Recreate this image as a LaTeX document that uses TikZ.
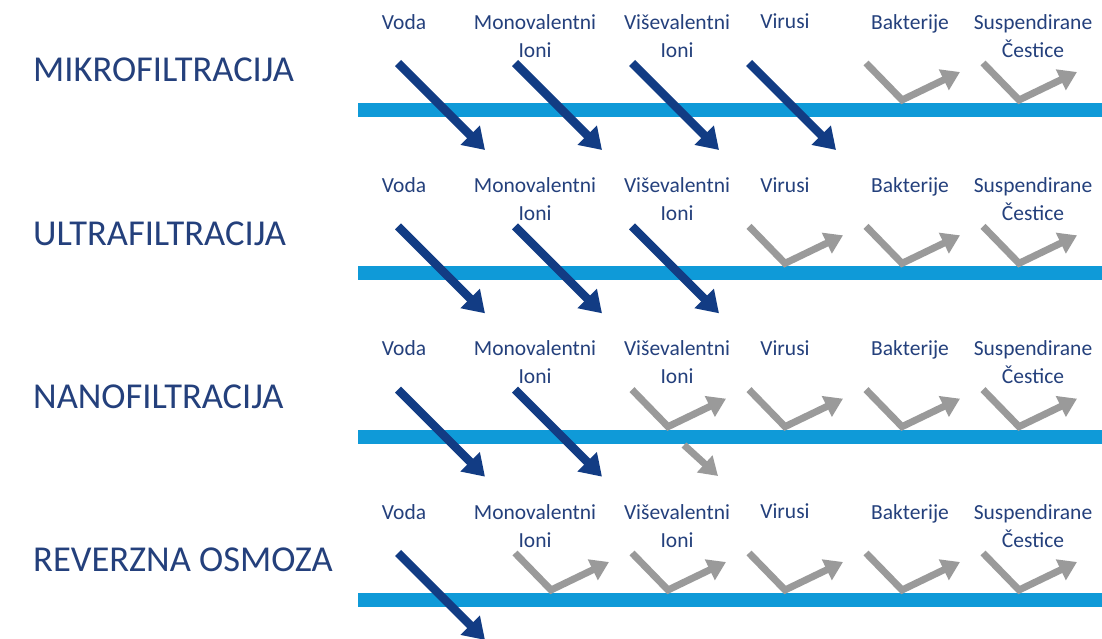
\documentclass[tikz,border=0pt]{standalone}
\usepackage{fontspec}
\setmainfont{Carlito}
\usetikzlibrary{arrows.meta}
\definecolor{navy}{HTML}{123C84}
\definecolor{txt}{HTML}{24407C}
\definecolor{membrane}{HTML}{0F9AD8}
\definecolor{reject}{HTML}{9A9A9A}
\tikzset{
 pass/.style={draw=navy, line width=8.5pt, -{Triangle[width=26pt,length=21pt]}},
 stop/.style={draw=reject, line width=7pt, -{Triangle[width=22pt,length=18pt]}},
 smalllab/.style={text=txt, font=\fontsize{21.5}{28}\selectfont, align=center, inner sep=0pt, anchor=north},
 biglab/.style={text=txt, font=\fontsize{36.5}{40}\selectfont, inner sep=0pt, anchor=base west},
}
\begin{document}
\begin{tikzpicture}[x=1pt,y=-1pt]
\useasboundingbox (0,0) rectangle (1102,639);
\fill[white] (0,0) rectangle (1102,639);
\foreach \r/\name in {0/MIKROFILTRACIJA,1/ULTRAFILTRACIJA,2/NANOFILTRACIJA,3/REVERZNA OSMOZA}{
  \pgfmathsetmacro\top{163.33*\r}
  \pgfmathtruncatemacro\np{4-\r}
  \node[biglab] (title\r) at (33,\top+82) {\name};
  \fill[membrane] (358,\top+103) rectangle (1102,\top+117);
  \foreach \c/\lx/\t in {0/404/Voda,1/535/{Monovalentni\\Ioni},2/677/{Viševalentni\\Ioni},3/785/Virusi,4/910/Bakterije,5/1033/{Suspendirane\\Čestice}}{
    \node[smalllab] (lab\r\c) at (\lx,\top+14) {\t};
    \pgfmathsetmacro\x{398+117*\c}
    \coordinate (a\r\c) at (\x,\top+63);
    \ifnum\c<\np
      \coordinate (b\r\c) at (\x+87,\top+150);
      \draw[pass] (a\r\c) -- (b\r\c);
    \else
      \coordinate (v\r\c) at (\x+36,\top+100);
      \coordinate (b\r\c) at (\x+94,\top+72);
      \draw[stop] (a\r\c) -- (v\r\c) -- (b\r\c);
    \fi
  }
}
\coordinate (sa) at (684,445);
\coordinate (sb) at (718,476);
\draw[stop] (sa) -- (sb);
\end{tikzpicture}
\end{document}
